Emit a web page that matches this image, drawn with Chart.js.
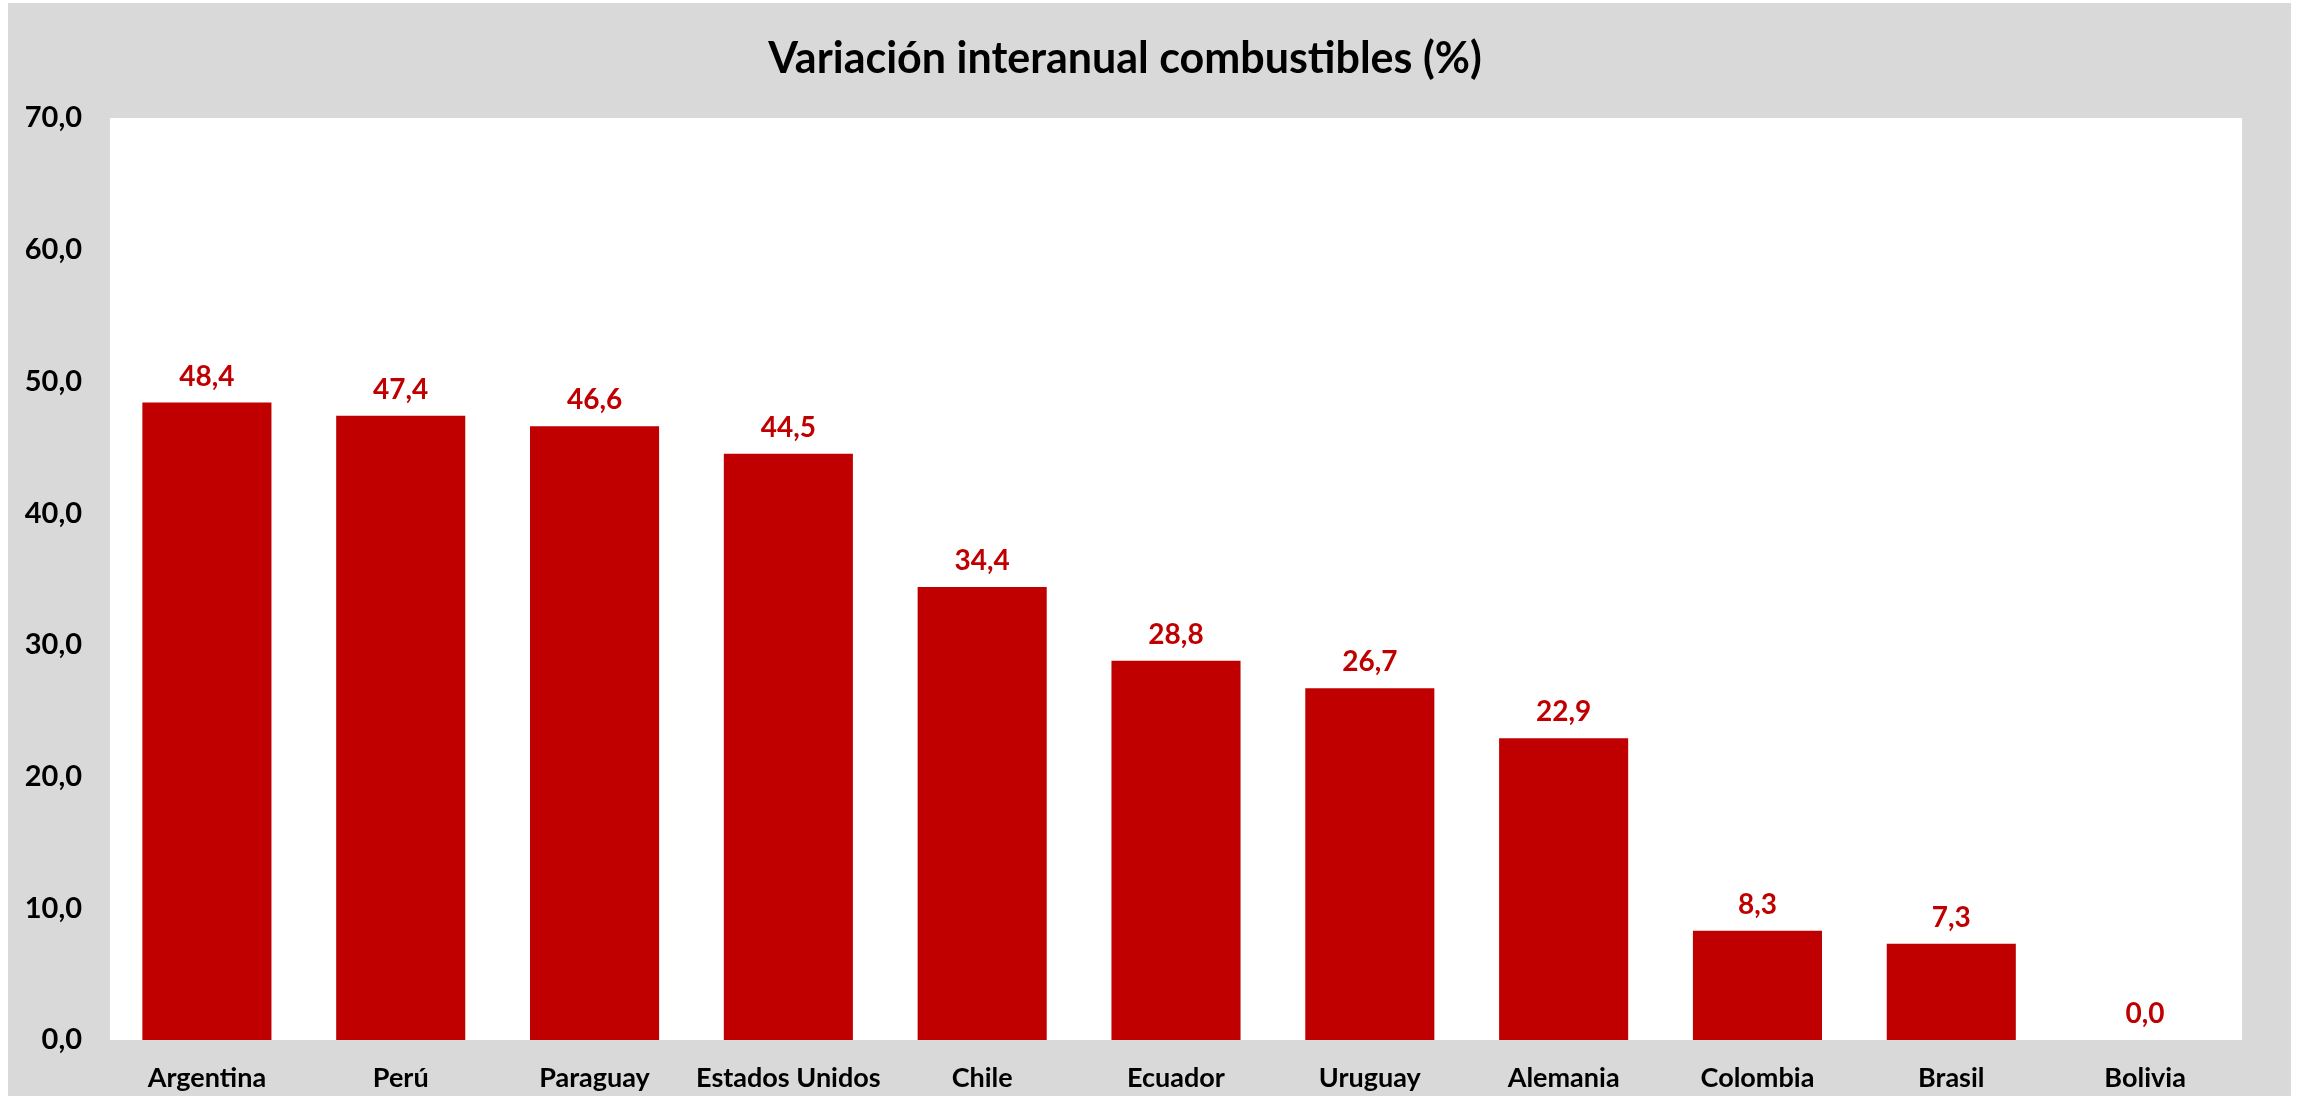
<!DOCTYPE html>
<html>
<head>
<meta charset="utf-8">
<script src="https://cdn.jsdelivr.net/npm/chart.js@4/dist/chart.umd.min.js"></script>
<style>
  html, body { margin: 0; padding: 0; background: #ffffff; }
  #box { position: absolute; left: 8px; top: 3px; width: 2283px; height: 1093px; background: #d9d9d9; }
</style>
</head>
<body>
<div id="box"><canvas id="chart"></canvas></div>
<script>
// datos del gráfico
const paises = ["Argentina", "Perú", "Paraguay", "Estados Unidos", "Chile", "Ecuador", "Uruguay", "Alemania", "Colombia", "Brasil", "Bolivia"];
const variacion = [48.4, 47.4, 46.6, 44.5, 34.4, 28.8, 26.7, 22.9, 8.3, 7.3, 0.0];
const yMin = 0, yMax = 70, yStep = 10;

const FONT = "Lato, 'Open Sans', sans-serif";
const ROJO = "#c00000";

function fmt(v) {
    return v.toFixed(1).replace(".", ",");
}

// fondo blanco del área de trazado
const plotBg = {
    id: "plotBg",
    beforeDraw(chart) {
        const a = chart.chartArea;
        const ctx = chart.ctx;
        ctx.save();
        ctx.fillStyle = "#ffffff";
        ctx.fillRect(a.left, a.top, a.right - a.left, a.bottom - a.top);
        ctx.restore();
    }
};

// etiquetas de valor encima de las barras
const valueLabels = {
    id: "valueLabels",
    afterDatasetsDraw(chart) {
        const ctx = chart.ctx;
        const meta = chart.getDatasetMeta(0);
        ctx.save();
        ctx.fillStyle = ROJO;
        ctx.font = "bold 28px " + FONT;
        ctx.textAlign = "center";
        ctx.textBaseline = "bottom";
        meta.data.forEach((bar, i) => {
            ctx.fillText(fmt(variacion[i]), bar.x, bar.y - 12);
        });
        ctx.restore();
    }
};

new Chart(document.getElementById("chart"), {
    type: "bar",
    data: {
        labels: paises,
        datasets: [{
            data: variacion,
            backgroundColor: ROJO,
            borderWidth: 0,
            barPercentage: 0.666,
            categoryPercentage: 1
        }]
    },
    options: {
        responsive: true,
        maintainAspectRatio: false,
        animation: false,
        layout: { padding: { left: 0, right: 49, top: 0, bottom: 0 } },
        plugins: {
            legend: { display: false },
            tooltip: { enabled: false },
            title: {
                display: true,
                text: "Variación interanual combustibles (%)",
                color: "#000000",
                font: { family: FONT, size: 43, weight: "bold" },
                padding: { top: 30, bottom: 33.4 }
            }
        },
        scales: {
            x: {
                grid: { display: false, drawTicks: false },
                border: { display: false },
                ticks: { color: "#000000", padding: 22, font: { family: FONT, size: 27, weight: "bold" }, maxRotation: 0 },
                afterFit(scale) { scale.height = 56; }
            },
            y: {
                min: yMin,
                max: yMax,
                grid: { display: false, drawTicks: false },
                border: { display: false },
                ticks: {
                    stepSize: yStep,
                    color: "#000000",
                    padding: 28,
                    font: { family: FONT, size: 29, weight: "bold" },
                    callback: (v) => fmt(v)
                },
                afterFit(scale) { scale.width = 102; }
            }
        }
    },
    plugins: [plotBg, valueLabels]
});
</script>
</body>
</html>
